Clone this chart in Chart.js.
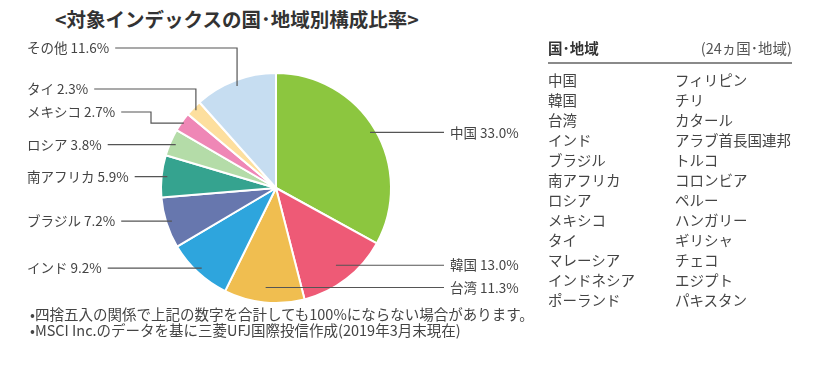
<!DOCTYPE html>
<html lang="ja">
<head>
<meta charset="utf-8">
<script src="https://cdn.jsdelivr.net/npm/chart.js@4"></script>
<style>
  body { margin: 0; background: #fff; font-family: "Noto Sans CJK JP", "Noto Sans", sans-serif; color: #444; }
  #wrap { position: relative; width: 827px; height: 369px; overflow: hidden; }
  #pie { position: absolute; left: 0; top: 0; }
  .title { position: absolute; left: 55px; top: 5px; font-size: 19.5px; font-weight: bold; color: #333; white-space: nowrap; line-height: 28px; }
  .head { position: absolute; left: 548px; top: 38px; width: 244px; height: 24px; border-bottom: 2px solid #8a8a8a; font-size: 14.5px; line-height: 20px; }
  .head b { position: absolute; left: 0; top: 0; color: #333; }
  .head span { position: absolute; right: 0; top: 0; color: #555; }
  .col { position: absolute; top: 70px; font-size: 14.5px; line-height: 20px; white-space: nowrap; }
  .notes { position: absolute; left: 30px; top: 306px; font-size: 14.5px; line-height: 16px; color: #444; white-space: nowrap; }
</style>
</head>
<body>
<div id="wrap">
  <div class="title">&lt;対象インデックスの国･地域別構成比率&gt;</div>
  <canvas id="pie" width="827" height="369"></canvas>
  <div class="head"><b>国･地域</b><span>(24ヵ国･地域)</span></div>
  <div class="col" id="col1" style="left:548px"></div>
  <div class="col" id="col2" style="left:675px"></div>
  <div class="notes">•四捨五入の関係で上記の数字を合計しても100%にならない場合があります。<br>•MSCI Inc.のデータを基に三菱UFJ国際投信作成(2019年3月末現在)</div>
</div>
<script>
// pie data
const categories = ['中国', '韓国', '台湾', 'インド', 'ブラジル', '南アフリカ', 'ロシア', 'メキシコ', 'タイ', 'その他'];
const weights = [33.0, 13.0, 11.3, 9.2, 7.2, 5.9, 3.8, 2.7, 2.3, 11.6];

// country list on the right
const listLeft = ['中国', '韓国', '台湾', 'インド', 'ブラジル', '南アフリカ', 'ロシア', 'メキシコ', 'タイ', 'マレーシア', 'インドネシア', 'ポーランド'];
const listRight = ['フィリピン', 'チリ', 'カタール', 'アラブ首長国連邦', 'トルコ', 'コロンビア', 'ペルー', 'ハンガリー', 'ギリシャ', 'チェコ', 'エジプト', 'パキスタン'];

const sliceColors = ['#8cc63f', '#ee5a76', '#f0be50', '#2ea5dd', '#6777ae', '#35a38f', '#b4dca8', '#ef87b6', '#fddf9e', '#c6ddf1'];

// where each label goes (side, anchor depth inside slice, optional fixed row / bend)
const labelLayout = [
  { side: 'r', f: 0.95 },
  { side: 'r', f: 0.85 },
  { side: 'r', f: 0.87 },
  { side: 'l', f: 0.95 },
  { side: 'l', f: 0.95 },
  { side: 'l', f: 0.95 },
  { side: 'l', f: 0.95 },
  { side: 'l', f: 0.98, y: 112, bendX: 151 },
  { side: 'l', f: 0.97, y: 89 },
  { side: 'l', f: 0.95, y: 48 }
];

document.getElementById('col1').innerHTML = listLeft.join('<br>');
document.getElementById('col2').innerHTML = listRight.join('<br>');

const leaderLabels = {
  id: 'leaderLabels',
  afterDraw(chart) {
    const ctx = chart.ctx;
    const arcs = chart.getDatasetMeta(0).data;
    ctx.save();
    ctx.font = '13.5px "Noto Sans CJK JP", "Noto Sans", sans-serif';
    ctx.textBaseline = 'middle';
    ctx.fillStyle = '#444';
    ctx.strokeStyle = '#555';
    ctx.lineWidth = 1.2;
    arcs.forEach((arc, i) => {
      const p = arc.getProps(['x', 'y', 'startAngle', 'endAngle', 'outerRadius'], true);
      const mid = (p.startAngle + p.endAngle) / 2;
      const lay = labelLayout[i];
      const ax = p.x + Math.cos(mid) * p.outerRadius * lay.f;
      const ay = p.y + Math.sin(mid) * p.outerRadius * lay.f;
      const txt = categories[i] + ' ' + weights[i].toFixed(1) + '%';
      ctx.beginPath();
      if (lay.side === 'r') {
        ctx.textAlign = 'left';
        ctx.fillText(txt, 450, ay);
        ctx.moveTo(ax, ay);
        ctx.lineTo(444, ay);
      } else {
        const ly = lay.y !== undefined ? lay.y : ay;
        ctx.textAlign = 'left';
        ctx.fillText(txt, 27, ly);
        const w = ctx.measureText(txt).width;
        ctx.moveTo(27 + w + 6, ly);
        if (lay.bendX) {
          ctx.lineTo(lay.bendX, ly);
          ctx.lineTo(lay.bendX, ay);
          ctx.lineTo(ax, ay);
        } else if (lay.y !== undefined) {
          ctx.lineTo(ax, ly);
          ctx.lineTo(ax, ay);
        } else {
          ctx.lineTo(ax, ay);
        }
      }
      ctx.stroke();
    });
    ctx.restore();
  }
};

new Chart(document.getElementById('pie'), {
  type: 'pie',
  data: {
    labels: categories,
    datasets: [{
      data: weights,
      backgroundColor: sliceColors,
      borderColor: '#fff',
      borderWidth: 2
    }]
  },
  options: {
    responsive: false,
    animation: false,
    layout: { padding: { left: 160, right: 435, top: 72, bottom: 65 } },
    plugins: {
      legend: { display: false },
      tooltip: { enabled: false }
    }
  },
  plugins: [leaderLabels]
});
</script>
</body>
</html>
